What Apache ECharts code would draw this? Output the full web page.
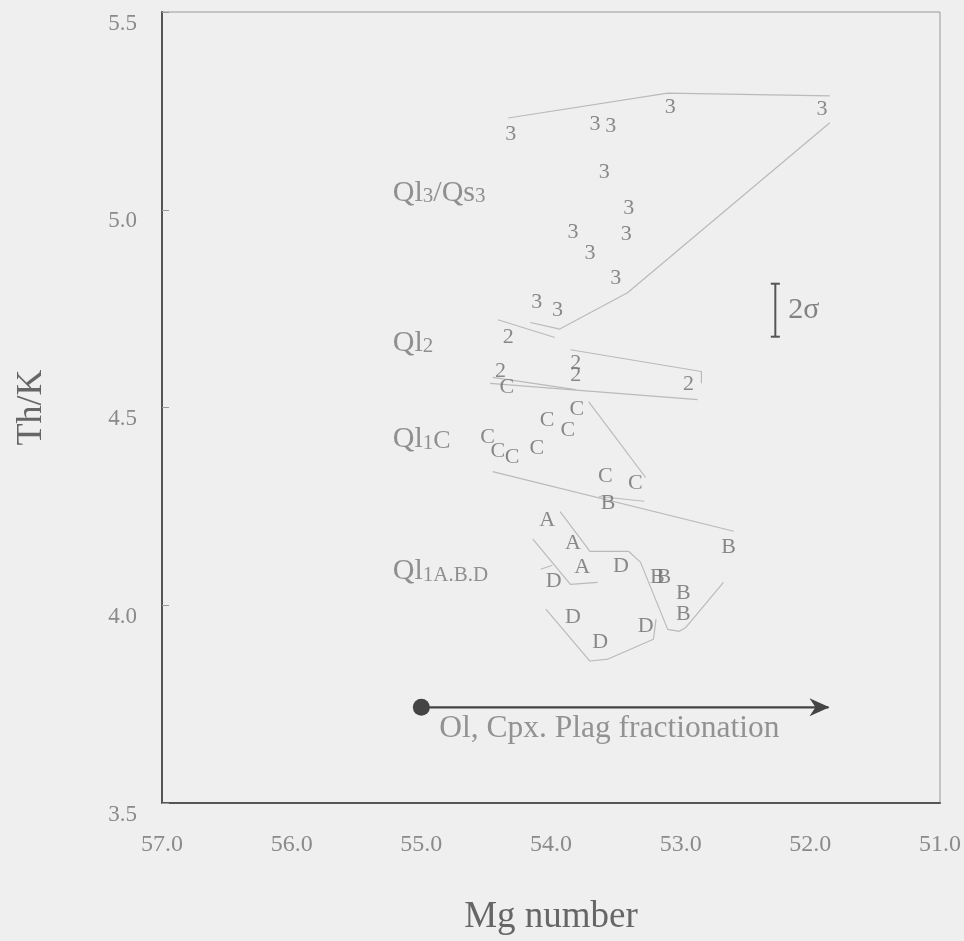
<!DOCTYPE html>
<html>
<head>
<meta charset="utf-8">
<script src="https://cdn.jsdelivr.net/npm/echarts@6/dist/echarts.min.js"></script>
<style>html,body{margin:0;padding:0;background:#efefef;}#c{width:964px;height:941px;}</style>
</head>
<body>
<div id="c"></div>
<script>
// ---- Axis ticks ----
const xTicks = [57.0, 56.0, 55.0, 54.0, 53.0, 52.0, 51.0];
const yTicks = [3.5, 4.0, 4.5, 5.0, 5.5];

// ---- Sample points (Mg number, Th/K) per group ----
const group3 = [[54.31,5.19],[53.66,5.215],[53.54,5.21],[53.08,5.258],[51.91,5.253],[53.59,5.096],[53.40,5.005],[53.83,4.942],[53.42,4.937],[53.70,4.891],[53.50,4.828],[54.11,4.765],[53.95,4.747]];
const group2 = [[54.33,4.677],[54.39,4.591],[53.81,4.611],[53.81,4.581],[52.94,4.558]];
const groupC = [[54.34,4.551],[53.80,4.495],[54.03,4.467],[53.87,4.442],[54.49,4.424],[54.41,4.389],[54.30,4.374],[54.11,4.396],[53.58,4.326],[53.35,4.308]];
const groupB = [[53.56,4.258],[52.63,4.146],[53.18,4.071],[53.13,4.071],[52.98,4.030],[52.98,3.977]];
const groupA = [[54.03,4.215],[53.83,4.157],[53.76,4.096]];
const groupD = [[53.98,4.061],[53.46,4.098],[53.83,3.970],[53.62,3.907],[53.27,3.947]];

// ---- Field boundary lines ----
const bound3Top = [[54.33,5.232],[53.10,5.295],[51.85,5.288]];
const bound3Right = [[51.85,5.220],[53.41,4.790],[53.94,4.697]];
const bound3Low = [[54.16,4.715],[53.94,4.699]];
const bound2TopA = [[54.41,4.722],[53.97,4.677]];
const bound2TopB = [[53.85,4.646],[52.84,4.591],[52.84,4.561]];
const bound2Bottom = [[54.47,4.561],[52.87,4.520]];
const bound2Cross = [[54.45,4.576],[53.81,4.545]];
const boundCRight = [[53.71,4.515],[53.27,4.323]];
const boundCBottom = [[54.45,4.338],[52.59,4.187]];
const boundCShort = [[53.63,4.275],[53.28,4.263]];
const boundAB = [[53.93,4.237],[53.77,4.167],[53.70,4.136],[53.40,4.136],[53.31,4.109],[53.10,3.939],[53.01,3.934],[52.96,3.944],[52.67,4.058]];
const boundALeft = [[54.14,4.167],[53.85,4.053],[53.64,4.058]];
const boundD = [[54.04,3.990],[53.70,3.859],[53.56,3.864],[53.21,3.914],[53.19,3.965]];
const boundDShort = [[54.08,4.091],[53.99,4.101]];

// ---- Annotations ----
const groupLabels = [
  {name:'{a|Ql}{b|3}{a|/Qs}{b|3}', pos:[55.22,5.043]},
  {name:'{a|Ql}{b|2}', pos:[55.22,4.664]},
  {name:'{a|Ql}{b|1}{c|C}', pos:[55.22,4.419]},
  {name:'{a|Ql}{b|1A.B.D}', pos:[55.22,4.086]}
];
const sigmaBar = {x:52.27, top:4.813, bottom:4.679, cap:0.035};
const sigmaText = {text:'2σ', pos:[52.17,4.747]};
const fracArrow = [[55.0,3.742],[51.86,3.742]];
const fracText = {text:'Ol, Cpx. Plag fractionation', pos:[53.55,3.687]};

const FONT = 'Liberation Serif';
const PT = '#6e6e6e';
const LINE = '#bababa';

function pointSeries(arr, ch) {
  return {
    type:'scatter', silent:true, symbol:'circle', symbolSize:1,
    itemStyle:{color:'rgba(0,0,0,0)'},
    data: arr.map(p => ({value:p, name:ch})),
    label:{show:true, position:'inside', formatter:'{b}', fontFamily:FONT, fontSize:22, color:PT},
    z:5
  };
}
function boundSeries(arr) {
  return {type:'line', silent:true, showSymbol:false, symbol:'none', data:arr,
    lineStyle:{color:LINE, width:1.2}, z:3};
}

const series = [
  pointSeries(group3,'3'), pointSeries(group2,'2'), pointSeries(groupC,'C'),
  pointSeries(groupB,'B'), pointSeries(groupA,'A'), pointSeries(groupD,'D'),
  ...[bound3Top,bound3Right,bound3Low,bound2TopA,bound2TopB,bound2Bottom,bound2Cross,
      boundCRight,boundCBottom,boundCShort,boundAB,boundALeft,boundD,boundDShort].map(boundSeries),
  {
    type:'scatter', silent:true, symbolSize:1, itemStyle:{color:'rgba(0,0,0,0)'},
    data: groupLabels.map(g => ({value:g.pos, name:g.name})),
    label:{show:true, position:'inside', align:'left', formatter:'{b}',
      rich:{
        a:{fontFamily:FONT, fontSize:30, color:'#777'},
        b:{fontFamily:FONT, fontSize:21, color:'#777', padding:[8,0,0,0]},
        c:{fontFamily:FONT, fontSize:26, color:'#777', padding:[3,0,0,0]}
      }}
  },
  {type:'line', silent:true, showSymbol:false, symbol:'none',
    data:[[sigmaBar.x,sigmaBar.top],[sigmaBar.x,sigmaBar.bottom]], lineStyle:{color:'#555', width:2}},
  {type:'line', silent:true, showSymbol:false, symbol:'none',
    data:[[sigmaBar.x+sigmaBar.cap,sigmaBar.top],[sigmaBar.x-sigmaBar.cap,sigmaBar.top]], lineStyle:{color:'#555', width:2}},
  {type:'line', silent:true, showSymbol:false, symbol:'none',
    data:[[sigmaBar.x+sigmaBar.cap,sigmaBar.bottom],[sigmaBar.x-sigmaBar.cap,sigmaBar.bottom]], lineStyle:{color:'#555', width:2}},
  {type:'scatter', silent:true, symbolSize:1, itemStyle:{color:'rgba(0,0,0,0)'},
    data:[{value:sigmaText.pos, name:sigmaText.text}],
    label:{show:true, position:'inside', align:'left', formatter:'{b}', fontFamily:FONT, fontSize:30, color:'#666'}},
  {type:'line', silent:true, showSymbol:true,
    data:[
      {value:fracArrow[0], symbol:'circle', symbolSize:17},
      {value:fracArrow[1], symbol:'path://M0,0 L20,10 L0,20 L6,10 Z', symbolSize:[20,18], symbolOffset:[-9,0]}
    ],
    lineStyle:{color:'#444', width:2.2}, itemStyle:{color:'#444', borderWidth:0}},
  {type:'scatter', silent:true, symbolSize:1, itemStyle:{color:'rgba(0,0,0,0)'},
    data:[{value:fracText.pos, name:fracText.text}],
    label:{show:true, position:'inside', formatter:'{b}', fontFamily:FONT, fontSize:31.5, color:'#7a7a7a'}}
];

const chart = echarts.init(document.getElementById('c'));
chart.setOption({
  animation:false,
  backgroundColor:'#efefef',
  grid:{left:162, right:24, top:12, bottom:138, show:true, borderColor:'#9a9a9a', borderWidth:1, backgroundColor:'transparent'},
  xAxis:{
    type:'value', min:xTicks[6], max:xTicks[0], interval:1, inverse:true,
    name:'Mg number', nameLocation:'middle', nameGap:96,
    nameTextStyle:{fontFamily:FONT, fontSize:37, color:'#666'},
    axisLine:{show:true, onZero:false, lineStyle:{color:'#555', width:2}},
    axisTick:{show:false},
    splitLine:{show:false},
    axisLabel:{margin:30, fontFamily:FONT, fontSize:24, color:'#8a8a8a', formatter:v => v.toFixed(1)}
  },
  yAxis:{
    type:'value', min:yTicks[0], max:yTicks[4], interval:0.5,
    name:'Th/K', nameLocation:'middle', nameGap:112,
    nameTextStyle:{fontFamily:FONT, fontSize:36, color:'#666'},
    axisLine:{show:true, onZero:false, lineStyle:{color:'#555', width:2}},
    axisTick:{show:true, inside:true, length:7, lineStyle:{color:'#999'}},
    splitLine:{show:false},
    axisLabel:{margin:25, fontFamily:FONT, fontSize:23, color:'#8a8a8a', verticalAlign:'top', formatter:v => v.toFixed(1)}
  },
  series: series
});
</script>
</body>
</html>
